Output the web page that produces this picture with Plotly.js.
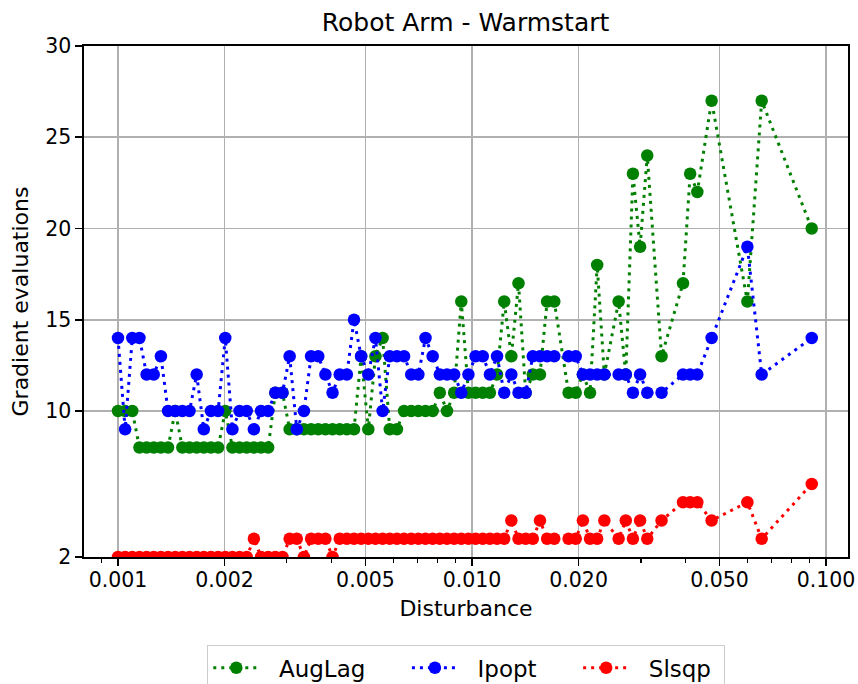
<!DOCTYPE html>
<html>
<head>
<meta charset="utf-8">
<script src="https://cdn.plot.ly/plotly-3.0.1.min.js"></script>
<style>html,body{margin:0;padding:0;background:#fff;}</style>
</head>
<body>
<div id="chart" style="width:858px;height:684px;"></div>
<script>
// Disturbance values (x), shared by all three series
const disturbance = [
  0.001, 0.0010476, 0.0010975, 0.0011498, 0.0012045, 0.0012619, 0.0013219, 0.0013849, 0.0014508, 0.0015199,
  0.0015923, 0.0016681, 0.0017475, 0.0018307, 0.0019179, 0.0020092, 0.0021049, 0.0022051, 0.0023101, 0.0024201,
  0.0025354, 0.0026561, 0.0027826, 0.0029151, 0.0030539, 0.0031993, 0.0033516, 0.0035112, 0.0036784, 0.0038535,
  0.0040370, 0.0042292, 0.0044306, 0.0046416, 0.0048626, 0.0050941, 0.0053367, 0.0055908, 0.0058570, 0.0061359,
  0.0064281, 0.0067342, 0.0070548, 0.0073907, 0.0077426, 0.0081113, 0.0084975, 0.0089022, 0.0093260, 0.0097701,
  0.010235, 0.010723, 0.011233, 0.011768, 0.012328, 0.012915, 0.013530, 0.014175, 0.014850, 0.015557,
  0.016297, 0.017074, 0.018738, 0.019630, 0.020565, 0.021544, 0.022570, 0.023645, 0.025950, 0.027186,
  0.028480, 0.029836, 0.031257, 0.034305, 0.039442, 0.041320, 0.043288, 0.047508, 0.059948, 0.065793,
  0.091116
];

const augLag = [
  10, 10, 10, 8, 8, 8, 8, 8, 10, 8,
  8, 8, 8, 8, 8, 10, 8, 8, 8, 8,
  8, 8, 11, 11, 9, 9, 9, 9, 9, 9,
  9, 9, 9, 9, 13, 9, 13, 14, 9, 9,
  10, 10, 10, 10, 10, 11, 10, 11, 16, 11,
  11, 11, 11, 12, 16, 13, 17, 11, 12, 12,
  16, 16, 11, 11, 12, 11, 18, 12, 16, 12,
  23, 19, 24, 13, 17, 23, 22, 27, 16, 27,
  20
];

const ipopt = [
  14, 9, 14, 14, 12, 12, 13, 10, 10, 10,
  10, 12, 9, 10, 10, 14, 9, 10, 10, 9,
  10, 10, 11, 11, 13, 9, 10, 13, 13, 12,
  11, 12, 12, 15, 13, 12, 14, 10, 13, 13,
  13, 12, 12, 14, 13, 12, 12, 12, 11, 12,
  13, 13, 12, 13, 11, 12, 11, 11, 13, 13,
  13, 13, 13, 13, 12, 12, 12, 12, 12, 12,
  11, 12, 11, 11, 12, 12, 12, 14, 19, 12,
  14
];

const slsqp = [
  2, 2, 2, 2, 2, 2, 2, 2, 2, 2,
  2, 2, 2, 2, 2, 2, 2, 2, 2, 3,
  2, 2, 2, 2, 3, 3, 2, 3, 3, 3,
  2, 3, 3, 3, 3, 3, 3, 3, 3, 3,
  3, 3, 3, 3, 3, 3, 3, 3, 3, 3,
  3, 3, 3, 3, 3, 4, 3, 3, 3, 4,
  3, 3, 3, 3, 4, 3, 3, 4, 3, 4,
  3, 4, 3, 4, 5, 5, 5, 4, 5, 3,
  6
];

const xTickVals = [0.001, 0.002, 0.005, 0.01, 0.02, 0.05, 0.1];
const xTickText = ['0.001', '0.002', '0.005', '0.010', '0.020', '0.050', '0.100'];
const xMinorVals = [0.0009, 0.003, 0.004, 0.006, 0.007, 0.008, 0.009, 0.03, 0.04, 0.06, 0.07, 0.08, 0.09];
const yTickVals = [2, 10, 15, 20, 25, 30];
const yTickText = ['2', '10', '15', '20', '25', '30'];

const seriesNames = ['AugLag', 'Ipopt', 'Slsqp'];
const seriesColors = ['#008000', '#0000ff', '#ff0000'];
const seriesValues = [augLag, ipopt, slsqp];

// legend labels padded with non-breaking spaces to mimic matplotlib legend spacing
const NB = '\u00a0';
const legendLabels = [
  NB + NB + seriesNames[0] + NB.repeat(5),
  NB + NB + seriesNames[1] + NB.repeat(5),
  NB + NB + seriesNames[2] + NB
];

const traces = seriesNames.map((name, k) => ({
  type: 'scatter',
  mode: 'lines+markers',
  name: legendLabels[k],
  x: disturbance,
  y: seriesValues[k],
  line: {color: seriesColors[k], width: 3, dash: '3px,5px'},
  marker: {color: seriesColors[k], size: 12.5, line: {width: 0}}
}));

const axisCommon = {
  showline: true, linecolor: 'black', linewidth: 1.6, mirror: true,
  ticks: 'outside', ticklen: 7, tickwidth: 1.6, tickcolor: 'black',
  showgrid: true, gridcolor: '#b0b0b0', gridwidth: 1.6,
  zeroline: false,
  tickfont: {size: 20.5, color: 'black'}
};

const layout = {
  width: 858, height: 684,
  margin: {l: 84, r: 10, t: 46, b: 127, autoexpand: false},
  paper_bgcolor: 'white', plot_bgcolor: 'white',
  font: {family: 'DejaVu Sans, sans-serif', color: 'black'},
  title: {text: 'Robot Arm - Warmstart', font: {size: 25, color: 'black'},
          x: 0.5426, xanchor: 'center', xref: 'container', y: 1 - 22/684, yanchor: 'middle', yref: 'container'},
  xaxis: Object.assign({}, axisCommon, {
    type: 'log', range: [-3.096, -0.938],
    tickmode: 'array', tickvals: xTickVals, ticktext: xTickText,
    ticklabelstandoff: -3,
    title: {text: 'Disturbance', font: {size: 22}, standoff: 9},
    minor: {tickmode: 'array', tickvals: xMinorVals, ticks: 'outside', ticklen: 4, tickwidth: 1.2, tickcolor: 'black', showgrid: false}
  }),
  yaxis: Object.assign({}, axisCommon, {
    range: [2, 30],
    tickmode: 'array', tickvals: yTickVals, ticktext: yTickText,
    title: {text: 'Gradient evaluations', font: {size: 22}, standoff: 10}
  }),
  showlegend: true,
  legend: {
    orientation: 'h', x: 0.5, xanchor: 'center', y: -0.1722, yanchor: 'top',
    bordercolor: '#cccccc', borderwidth: 1.3, bgcolor: 'white',
    font: {size: 23, color: 'black'}, itemwidth: 46
  }
};

Plotly.newPlot('chart', traces, layout, {displayModeBar: false, staticPlot: true});
</script>
</body>
</html>
